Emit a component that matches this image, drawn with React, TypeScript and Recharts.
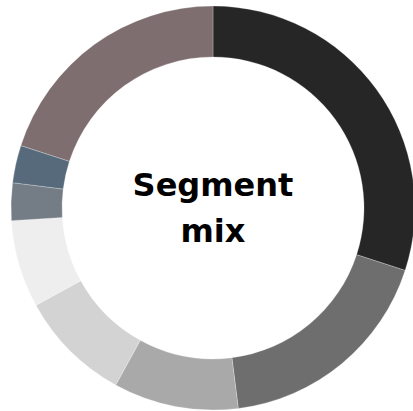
import React from 'react'
import {Cell, Pie, PieChart} from 'recharts'

const segments = ['Core', 'Growth', 'Retail', 'Wholesale', 'Online', 'Export', 'Services', 'Other']
const shares = [30, 18, 10, 9, 7, 3, 3, 20]
const colors = ['#262626', '#6e6e6e', '#a9a9a9', '#d3d3d3', '#eeeeee', '#747d85', '#566a7c', '#7e6e70']

const title = ['Segment', 'mix']

const data = segments.map((name, index) => {
    return {
        'name': name,
        'value': shares[index],
    }
})

const App = () => {
    return (
        <div style={{position: 'absolute', left: 0, top: 0, width: 413, height: 411, background: '#fff'}}>
            <PieChart width={413} height={411}>
                <Pie
                    data={data}
                    dataKey='value'
                    nameKey='name'
                    cx={208}
                    cy={203}
                    innerRadius={151}
                    outerRadius={202}
                    startAngle={90}
                    endAngle={-270}
                    stroke='#ffffff'
                    strokeWidth={0.25}
                    isAnimationActive={false}
                >
                    {data.map((entry, index) => <Cell key={entry.name} fill={colors[index]}/>)}
                </Pie>
            </PieChart>
            <div style={{
                position: 'absolute',
                left: 113,
                width: 200,
                top: 162,
                textAlign: 'center',
                fontFamily: 'DejaVu Sans',
                fontWeight: 700,
                fontSize: 32,
                lineHeight: '46px',
                color: '#000',
            }}>
                {title.map(line => <div key={line}>{line}</div>)}
            </div>
        </div>
    )
}
export default App
